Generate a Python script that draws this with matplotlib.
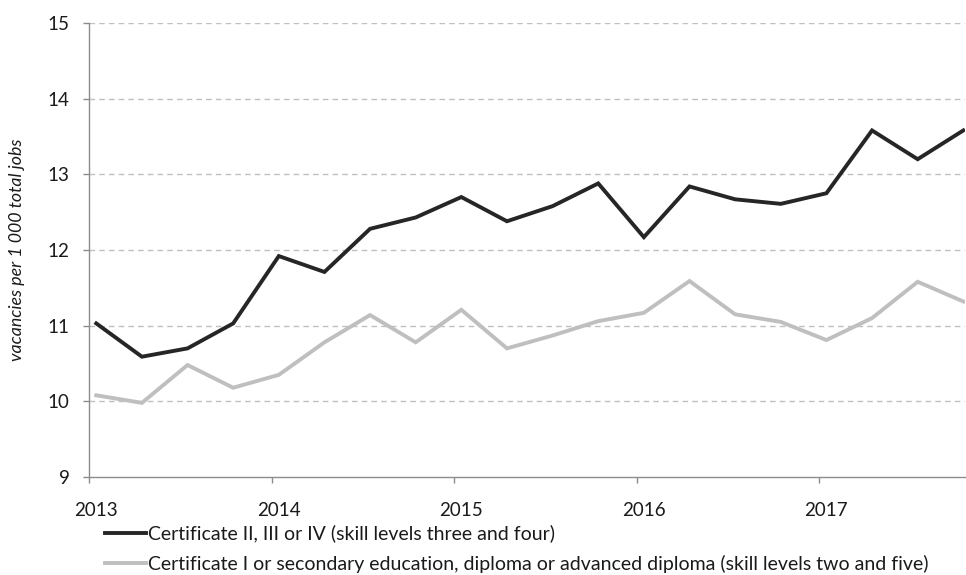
import matplotlib
matplotlib.use("Agg")
import matplotlib.pyplot as plt
import matplotlib.transforms as mtransforms
import numpy as np

plt.rcParams['font.family'] = ['Lato', 'DejaVu Sans']

# quarterly observations, 2013 to 2017
quarters = 2013.04 + 0.25 * np.arange(20)
cert_2_4 = [11.03, 10.59, 10.70, 11.03, 11.92, 11.71, 12.28, 12.43, 12.70, 12.38,
            12.58, 12.88, 12.17, 12.84, 12.67, 12.61, 12.75, 13.58, 13.20, 13.58]
cert_1_dip = [10.08, 9.98, 10.48, 10.18, 10.35, 10.78, 11.14, 10.78, 11.21, 10.70,
              10.87, 11.06, 11.17, 11.59, 11.15, 11.05, 10.81, 11.10, 11.58, 11.32]
labels = ['Certificate II, III or IV (skill levels three and four)',
          'Certificate I or secondary education, diploma or advanced diploma (skill levels two and five)']
years = [2013, 2014, 2015, 2016, 2017]
yticks = [9, 10, 11, 12, 13, 14, 15]

fig = plt.figure(figsize=(9.66, 5.75), dpi=100)
ax = fig.add_axes([0.0921, 0.1704, 0.907, 0.7896])

ax.plot(quarters, cert_2_4, color='#262626', lw=2.8, label=labels[0], solid_joinstyle='miter')
ax.plot(quarters, cert_1_dip, color='#bfbfbf', lw=2.8, label=labels[1], solid_joinstyle='miter')

ax.set_xlim(2013, 2017.8)
ax.set_ylim(9, 15)
ax.set_xticks(years)
ax.set_xticklabels([str(y) for y in years])
ax.set_yticks(yticks)

for y in yticks[1:]:
    ax.axhline(y, color='#c0c0c0', lw=1.0, ls=(0, (4, 3)), zorder=0)

for s in ['top', 'right']:
    ax.spines[s].set_visible(False)
for s in ['left', 'bottom']:
    ax.spines[s].set_color('#8c8c8c')
    ax.spines[s].set_linewidth(1.0)

ax.tick_params(axis='both', colors='#8c8c8c', labelcolor='#1a1a1a', labelsize=13.5,
               length=4, width=1.0)
ax.tick_params(axis='y', pad=10)
ax.tick_params(axis='x', pad=14)

offset = mtransforms.ScaledTranslation(7 / 100, 0, fig.dpi_scale_trans)
for lab in ax.get_xticklabels():
    lab.set_transform(lab.get_transform() + offset)

ax.set_ylabel('vacancies per 1 000 total jobs', fontstyle='italic', fontsize=12.8,
              color='#1a1a1a', labelpad=16)

fig.legend(loc='upper left', bbox_to_anchor=(0.109, 0.088), frameon=False,
           fontsize=14, handlelength=2.1, handletextpad=0.1, labelspacing=0.65,
           borderaxespad=0, borderpad=0, labelcolor='#1a1a1a')

fig.savefig('out.png', dpi=100)
